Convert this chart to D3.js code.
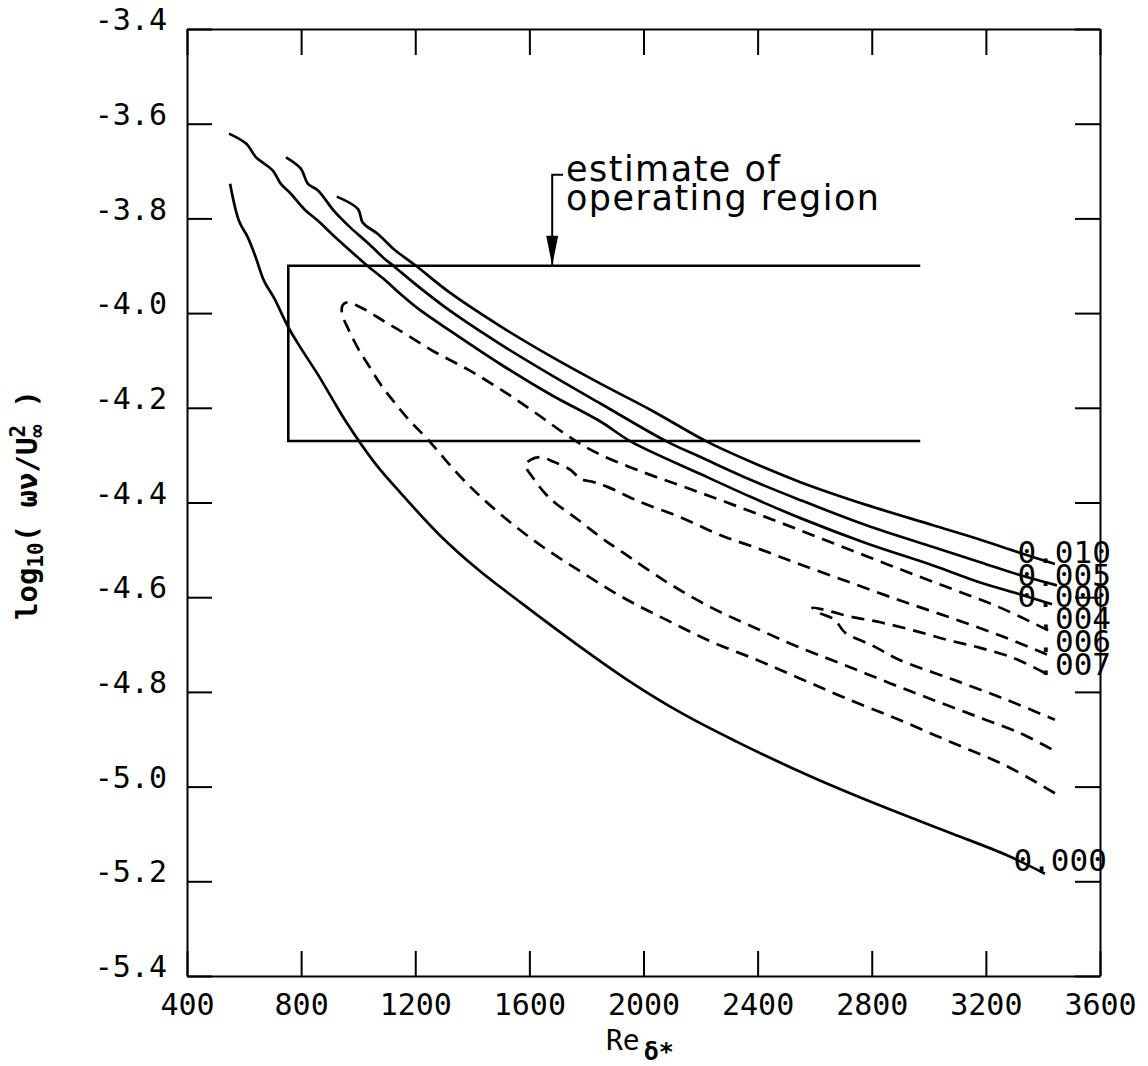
<!DOCTYPE html>
<html><head><meta charset="utf-8">
<script src="https://cdn.jsdelivr.net/npm/d3@7/dist/d3.min.js"></script>
<style>body{margin:0;background:#fff}svg{display:block}</style>
</head><body>
<svg id="chart" width="1148" height="1066"></svg>
<script>
// ---- data (Re_delta*, log10(omega nu / U^2)) ----
const xTicks = [400, 800, 1200, 1600, 2000, 2400, 2800, 3200, 3600];
const yTicks = [-3.4, -3.6, -3.8, -4.0, -4.2, -4.4, -4.6, -4.8, -5.0, -5.2, -5.4];

const c010 = [[925,-3.754],[999,-3.780],[1016,-3.809],[1069,-3.833],[1125,-3.865],[1198,-3.898],[1324,-3.958],[1499,-4.028],[1674,-4.091],[1849,-4.149],[2024,-4.204],[2224,-4.272],[2392,-4.318],[2550,-4.357],[2781,-4.405],[3015,-4.448],[3173,-4.477],[3313,-4.505],[3442,-4.530]];
const c005 = [[747,-3.671],[799,-3.695],[824,-3.727],[859,-3.741],[915,-3.784],[974,-3.820],[1034,-3.852],[1090,-3.884],[1125,-3.901],[1209,-3.943],[1324,-3.996],[1499,-4.066],[1674,-4.130],[1849,-4.191],[2084,-4.272],[2200,-4.304],[2375,-4.352],[2550,-4.395],[2781,-4.448],[3015,-4.494],[3180,-4.526],[3313,-4.552],[3449,-4.575]];
const c000Upper = [[547,-3.621],[607,-3.642],[642,-3.671],[670,-3.684],[701,-3.699],[729,-3.727],[764,-3.748],[810,-3.780],[859,-3.805],[915,-3.837],[985,-3.875],[1034,-3.901],[1090,-3.928],[1149,-3.960],[1209,-3.990],[1324,-4.038],[1499,-4.108],[1674,-4.172],[1849,-4.229],[1958,-4.272],[2200,-4.340],[2375,-4.388],[2550,-4.433],[2781,-4.486],[3015,-4.533],[3180,-4.569],[3320,-4.594],[3432,-4.615]];
const c000Lower = [[551,-3.727],[582,-3.805],[614,-3.841],[642,-3.884],[670,-3.932],[705,-3.968],[757,-4.032],[799,-4.074],[859,-4.130],[915,-4.187],[957,-4.229],[1060,-4.318],[1149,-4.380],[1286,-4.469],[1419,-4.541],[1569,-4.611],[1758,-4.696],[1947,-4.776],[2137,-4.846],[2326,-4.905],[2518,-4.960],[2707,-5.010],[2896,-5.056],[3085,-5.100],[3274,-5.145],[3407,-5.184]];
const c004 = [[3418,-4.670],[3250,-4.622],[3096,-4.586],[2938,-4.550],[2784,-4.514],[2627,-4.477],[2473,-4.441],[2315,-4.405],[2161,-4.371],[2003,-4.337],[1849,-4.299],[1762,-4.270],[1615,-4.208],[1499,-4.161],[1384,-4.119],[1265,-4.081],[1149,-4.038],[1090,-4.017],[1034,-3.996],[999,-3.985],[964,-3.977],[946,-3.983],[943,-4.000],[964,-4.032],[999,-4.074],[1034,-4.108],[1079,-4.151],[1125,-4.187],[1174,-4.223],[1244,-4.267],[1359,-4.346],[1461,-4.405],[1615,-4.480],[1772,-4.543],[1926,-4.600],[2084,-4.649],[2238,-4.694],[2396,-4.732],[2550,-4.772],[2707,-4.813],[2896,-4.859],[3085,-4.908],[3274,-4.957],[3442,-5.014]];
const c006 = [[3414,-4.721],[3250,-4.681],[3075,-4.643],[2900,-4.607],[2725,-4.569],[2550,-4.531],[2410,-4.499],[2270,-4.469],[2129,-4.431],[1989,-4.399],[1874,-4.367],[1825,-4.357],[1779,-4.350],[1744,-4.331],[1685,-4.314],[1639,-4.304],[1604,-4.310],[1587,-4.321],[1615,-4.350],[1657,-4.382],[1695,-4.403],[1772,-4.437],[1849,-4.473],[1926,-4.505],[2084,-4.569],[2238,-4.622],[2396,-4.666],[2550,-4.707],[2704,-4.743],[2861,-4.781],[3015,-4.817],[3173,-4.853],[3320,-4.887],[3442,-4.925]];
const c007 = [[3407,-4.760],[3295,-4.728],[3180,-4.707],[3064,-4.690],[2945,-4.670],[2830,-4.653],[2725,-4.641],[2655,-4.630],[2592,-4.622],[2620,-4.634],[2669,-4.647],[2707,-4.675],[2802,-4.702],[2896,-4.732],[3085,-4.774],[3274,-4.817],[3442,-4.859]];

const solidCurves = [c010, c005, c000Upper, c000Lower];
const dashedCurves = [c004, c006, c007];

const labelTexts = ["0.010", "0.005", "0.000", ".004", ".006", ".007", "0.000"];
const labelRe    = [3311, 3311, 3311, 3377, 3377, 3377, 3297];
const labelLog   = [-4.505, -4.553, -4.597, -4.644, -4.693, -4.741, -5.155];

// operating region box: Re range and log range
const boxRe = [755, 2970];
const boxLog = [-3.9, -4.27];
const arrowRe = 1680, arrowTopLog = -3.708, hookRe = 1718;
const noteLines = ["estimate of", "operating region"];
const noteRe = 1728;
const noteLog = [-3.722, -3.783];

// ---- drawing ----
const svg = d3.select("#chart");
svg.append("rect").attr("width", 1148).attr("height", 1066).attr("fill", "#fff");

const x = d3.scaleLinear().domain([400, 3600]).range([187, 1100]);
const y = d3.scaleLinear().domain([-5.4, -3.4]).range([976, 29]);

const mono = "'DejaVu Sans Mono', monospace";

function styleAxis(g) {
  g.select(".domain").attr("stroke", "#000").attr("stroke-width", 2);
  g.selectAll(".tick line").attr("stroke", "#000").attr("stroke-width", 2);
  g.selectAll(".tick text").attr("fill", "#000").attr("font-family", mono).attr("font-size", 30);
}

svg.append("g").attr("transform", "translate(0,976)")
  .call(d3.axisBottom(x).tickValues(xTicks).tickSize(-25).tickSizeOuter(0).tickPadding(18).tickFormat(d3.format("d")))
  .call(styleAxis);
svg.append("g").attr("transform", "translate(0,29)")
  .call(d3.axisTop(x).tickValues(xTicks).tickSize(-26).tickSizeOuter(0).tickFormat(""))
  .call(styleAxis);
const yl = svg.append("g").attr("transform", "translate(187,0)")
  .call(d3.axisLeft(y).tickValues(yTicks).tickSize(-25).tickSizeOuter(0).tickPadding(20).tickFormat(d => d.toFixed(1)))
  .call(styleAxis);
yl.selectAll(".tick text").attr("dy", "0.02em");
svg.append("g").attr("transform", "translate(1100,0)")
  .call(d3.axisRight(y).tickValues(yTicks).tickSize(-25).tickSizeOuter(0).tickFormat(""))
  .call(styleAxis);

const line = d3.line().x(d => x(d[0])).y(d => y(d[1]));
const smooth = d3.line().x(d => x(d[0])).y(d => y(d[1])).curve(d3.curveCatmullRom.alpha(0.5));

svg.append("g").selectAll("path").data(solidCurves).join("path")
  .attr("d", smooth).attr("fill", "none").attr("stroke", "#000").attr("stroke-width", 2.7)
  .attr("stroke-linejoin", "round");
svg.append("g").selectAll("path").data(dashedCurves).join("path")
  .attr("d", smooth).attr("fill", "none").attr("stroke", "#000").attr("stroke-width", 2.7)
  .attr("stroke-dasharray", "13,8");

// operating region box (open on the right)
svg.append("path")
  .attr("d", line([[boxRe[1], boxLog[0]], [boxRe[0], boxLog[0]], [boxRe[0], boxLog[1]], [boxRe[1], boxLog[1]]]))
  .attr("fill", "none").attr("stroke", "#000").attr("stroke-width", 2.6);

// arrow
svg.append("path")
  .attr("d", line([[hookRe, arrowTopLog], [arrowRe, arrowTopLog], [arrowRe, boxLog[0]]]))
  .attr("fill", "none").attr("stroke", "#000").attr("stroke-width", 2);
const ax = x(arrowRe), ay = y(boxLog[0]);
svg.append("path").attr("d", `M${ax - 6},${ay - 30}L${ax + 6},${ay - 30}L${ax},${ay}Z`).attr("fill", "#000");

svg.append("g").selectAll("text").data(noteLines).join("text")
  .attr("x", x(noteRe)).attr("y", (d, i) => y(noteLog[i]))
  .attr("font-family", "'DejaVu Sans', sans-serif").attr("font-size", 35)
  .attr("letter-spacing", 1.5).attr("fill", "#000")
  .text(d => d);

// contour labels
svg.append("g").selectAll("text").data(labelTexts).join("text")
  .attr("x", (d, i) => x(labelRe[i])).attr("y", (d, i) => y(labelLog[i]) + 11)
  .attr("font-family", mono).attr("font-size", 31).attr("fill", "#000")
  .text(d => d);

// axis titles
const xt = svg.append("text").attr("x", 606).attr("y", 1050)
  .attr("font-family", mono).attr("font-size", 28).attr("fill", "#000");
xt.append("tspan").text("Re");
xt.append("tspan").attr("dx", 4).attr("dy", 10).attr("font-size", 25).attr("font-weight", "bold").text("δ*");

const yt = svg.append("text").attr("transform", "translate(37,505) rotate(-90)")
  .attr("text-anchor", "middle").attr("font-family", mono).attr("font-weight", "bold")
  .attr("font-size", 29).attr("fill", "#000");
yt.append("tspan").text("log");
yt.append("tspan").attr("font-size", 21).attr("dy", 6).text("10");
yt.append("tspan").attr("dy", -6).text("( ων/U");
yt.append("tspan").attr("font-size", 21).attr("dy", 7).text("∞");
yt.append("tspan").attr("font-size", 21).attr("dx", -12.6).attr("dy", -19).text("2");
yt.append("tspan").attr("dy", 12).text(" )");
</script>
</body></html>
